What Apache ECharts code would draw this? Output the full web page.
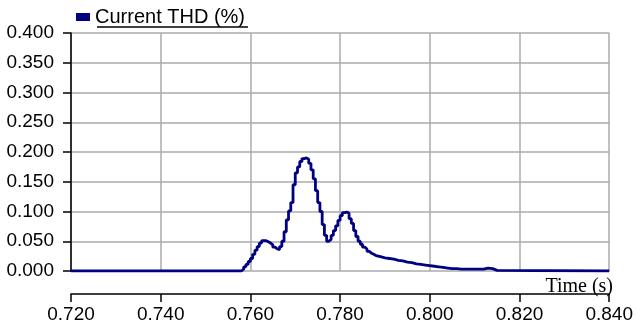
<!DOCTYPE html>
<html>
<head>
<meta charset="utf-8">
<script src="https://cdn.jsdelivr.net/npm/echarts@6/dist/echarts.min.js"></script>
<style>
  html, body { margin: 0; padding: 0; background: #fff; }
  #chart { width: 636px; height: 327px; }
</style>
</head>
<body>
<div id="chart"></div>
<script>
// Current THD trace, sampled time (s) and value (%)
const seriesName = 'Current THD (%)';
const xAxisTitle = 'Time (s)';
const timeS = [
  0.720, 0.757, 0.7575, 0.758, 0.7585, 0.759, 0.7595, 0.760, 0.7605, 0.761, 0.7615,
  0.762, 0.7625, 0.763, 0.7635, 0.764, 0.7645, 0.765, 0.7655, 0.766, 0.7665,
  0.767, 0.7675, 0.768, 0.7685, 0.769, 0.7695, 0.770, 0.7705, 0.771, 0.7715,
  0.772, 0.7725, 0.773, 0.7735, 0.774, 0.7745, 0.775, 0.7755, 0.776, 0.7765,
  0.777, 0.7775, 0.778, 0.7785, 0.779, 0.7795, 0.780, 0.7805, 0.781, 0.7815,
  0.782, 0.7825, 0.783, 0.7835, 0.784, 0.7845, 0.785, 0.7855, 0.786, 0.7865,
  0.787, 0.7875, 0.788, 0.789, 0.790, 0.791, 0.792, 0.793, 0.794, 0.795,
  0.796, 0.797, 0.798, 0.799, 0.800, 0.801, 0.802, 0.803, 0.804, 0.805,
  0.806, 0.807, 0.808, 0.809, 0.810, 0.811, 0.812, 0.813, 0.814, 0.815, 0.840
];
const thdPct = [
  0.000, 0.000, 0.000, 0.003, 0.007, 0.011, 0.016, 0.021, 0.028, 0.035, 0.041,
  0.047, 0.051, 0.051, 0.049, 0.047, 0.044, 0.040, 0.037, 0.036, 0.041,
  0.050, 0.066, 0.086, 0.101, 0.115, 0.145, 0.165, 0.175, 0.184, 0.189,
  0.190, 0.188, 0.181, 0.170, 0.155, 0.135, 0.115, 0.100, 0.078, 0.060,
  0.050, 0.053, 0.060, 0.068, 0.076, 0.085, 0.093, 0.098, 0.099, 0.097,
  0.088, 0.080, 0.068, 0.058, 0.050, 0.045, 0.040, 0.037, 0.033, 0.030,
  0.028, 0.026, 0.024, 0.022, 0.021, 0.020, 0.018, 0.017, 0.015, 0.014,
  0.012, 0.011, 0.010, 0.009, 0.008, 0.007, 0.006, 0.005, 0.004, 0.004,
  0.003, 0.003, 0.003, 0.003, 0.003, 0.003, 0.005, 0.004, 0.001, 0.000, 0.000
];
const xTicks = { min: 0.72, max: 0.84, step: 0.02 };
const yTicks = { min: 0, max: 0.4, step: 0.05 };

const points = timeS.map((t, i) => [t, thdPct[i]]);
const sans = 'Liberation Sans, Arial, sans-serif';

const chart = echarts.init(document.getElementById('chart'), null, { renderer: 'canvas' });
chart.setOption({
  animation: false,
  backgroundColor: '#ffffff',
  grid: { left: 71, right: 26, top: 33, bottom: 56, containLabel: false },
  legend: {
    left: 76, top: 7, padding: 0,
    icon: 'rect', itemWidth: 14, itemHeight: 8, itemGap: 10,
    textStyle: { fontFamily: sans, fontSize: 20, color: '#000' },
    data: [seriesName]
  },
  xAxis: {
    type: 'value',
    min: xTicks.min, max: xTicks.max, interval: xTicks.step,
    offset: 23,
    axisLine: { show: true, onZero: false, lineStyle: { color: '#000', width: 1.5 } },
    axisTick: { show: true, inside: false, length: 8, lineStyle: { color: '#000', width: 1.5 } },
    axisLabel: {
      margin: 11, fontFamily: sans, fontSize: 19, color: '#000',
      formatter: v => v.toFixed(3)
    },
    splitLine: { show: true, lineStyle: { color: '#ababab', width: 1.5 } }
  },
  yAxis: {
    type: 'value',
    min: yTicks.min, max: yTicks.max, interval: yTicks.step,
    axisLine: { show: true, lineStyle: { color: '#000', width: 1.5 } },
    axisTick: { show: true, inside: false, length: 8, lineStyle: { color: '#000', width: 1.5 } },
    axisLabel: {
      margin: 17, fontFamily: sans, fontSize: 19, color: '#000',
      formatter: v => v.toFixed(3)
    },
    splitLine: { show: true, lineStyle: { color: '#ababab', width: 1.5 } }
  },
  graphic: [
    {
      type: 'text', right: 23, top: 277, z: 10,
      style: { text: xAxisTitle, fontFamily: 'Liberation Serif, Times New Roman, serif', fontSize: 20, fill: '#000' }
    },
    {
      type: 'line', z: 10,
      shape: { x1: 97, y1: 27, x2: 248, y2: 27 },
      style: { stroke: '#000', lineWidth: 1.5 }
    }
  ],
  series: [{
    name: seriesName,
    type: 'line',
    step: 'end',
    data: points,
    showSymbol: false,
    symbol: 'none',
    color: '#000080',
    lineStyle: { color: '#000080', width: 2.8 },
    z: 5
  }]
});
</script>
</body>
</html>
